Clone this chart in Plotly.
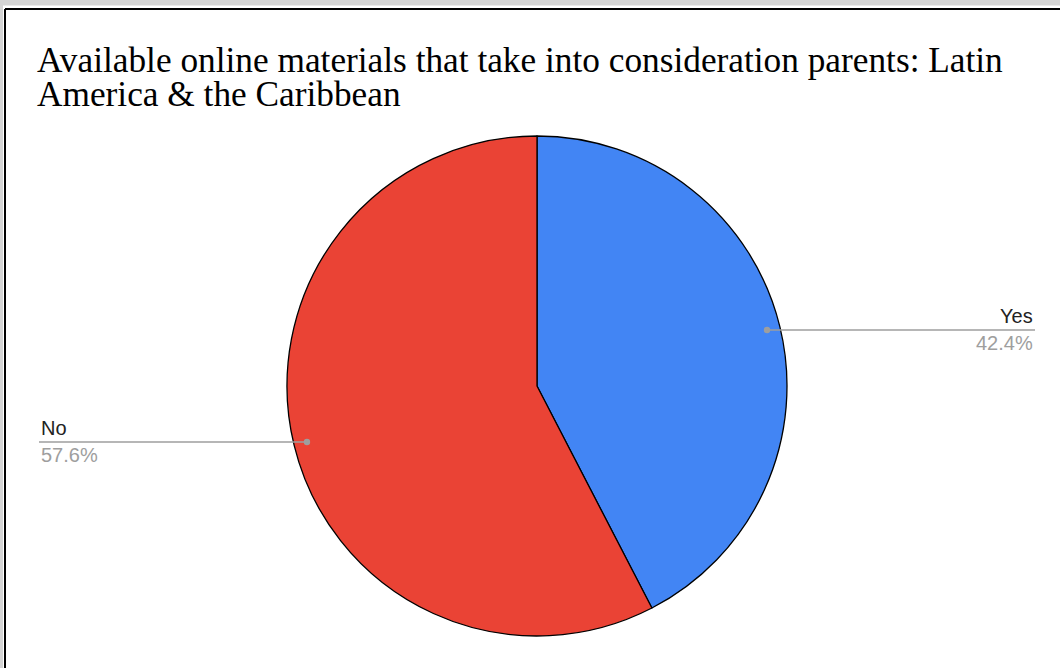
import math
import plotly.graph_objects as go

# ---- data ----
labels = ["Yes", "No"]
values = [42.4, 57.6]
colors = ["#4285f4", "#ea4335"]
title_lines = ["Available online materials that take into consideration parents: Latin",
               "America & the Caribbean"]

# ---- layout geometry (page pixels) ----
W, H = 1060, 668
cx, cy, R = 537, 386, 250
lead_r = 0.947 * R
label_x = {"right": 1035, "left": 39}

def px(x):
    return x / W

def py(y):
    return 1 - y / H

fig = go.Figure()
fig.add_trace(go.Pie(
    labels=labels, values=values, sort=False, direction="clockwise", rotation=0,
    marker=dict(colors=colors, line=dict(color="#000000", width=1.3)),
    textinfo="none", hoverinfo="label+percent", showlegend=False,
    domain=dict(x=[px(cx - R), px(cx + R)], y=[py(cy + R), py(cy - R)]),
))

shapes = []
annotations = []
total = sum(values)
cum = 0.0
for lab, v in zip(labels, values):
    mid = (cum + v / 2) / total * 2 * math.pi
    cum += v
    dx = lead_r * math.sin(mid)
    dy = -lead_r * math.cos(mid)
    x0, y0 = cx + dx, cy + dy
    right = dx >= 0
    xe = label_x["right"] if right else label_x["left"]
    shapes.append(dict(type="line", xref="paper", yref="paper",
                       x0=px(x0), x1=px(xe), y0=py(y0), y1=py(y0),
                       line=dict(color="#9e9e9e", width=1.6)))
    shapes.append(dict(type="circle", xref="paper", yref="paper",
                       x0=px(x0 - 3.2), x1=px(x0 + 3.2), y0=py(y0 - 3.2), y1=py(y0 + 3.2),
                       fillcolor="#9e9e9e", line=dict(width=0)))
    anchor = "right" if right else "left"
    annotations.append(dict(text=lab, x=px(xe), y=py(y0 - 1), xref="paper", yref="paper",
                            xanchor=anchor, yanchor="bottom", showarrow=False,
                            font=dict(family="Liberation Sans, Arial", size=20, color="#222222")))
    annotations.append(dict(text=f"{v / total * 100:.1f}%", x=px(xe), y=py(y0 + 0),
                            xref="paper", yref="paper",
                            xanchor=anchor, yanchor="top", showarrow=False,
                            font=dict(family="Liberation Sans, Arial", size=20, color="#9e9e9e")))

# title lines
for i, t in enumerate(title_lines):
    annotations.append(dict(text=t, x=px(35), y=py(39 + 34 * i), xref="paper", yref="paper",
                            xanchor="left", yanchor="top", showarrow=False,
                            font=dict(family="Liberation Serif, Times New Roman", size=35.3,
                                      color="#000000")))

# frame
shapes += [
    dict(type="rect", xref="paper", yref="paper", x0=0, x1=1, y0=py(5.5), y1=1,
         fillcolor="#d4d4d4", line=dict(width=0), layer="below"),
    dict(type="rect", xref="paper", yref="paper", x0=0, x1=px(3), y0=0, y1=1,
         fillcolor="#d4d4d4", line=dict(width=0), layer="below"),
    dict(type="line", xref="paper", yref="paper", x0=px(5), x1=1, y0=py(9), y1=py(9),
         line=dict(color="#000000", width=2)),
    dict(type="line", xref="paper", yref="paper", x0=px(5), x1=px(5), y0=0, y1=py(9),
         line=dict(color="#000000", width=2)),
]

fig.update_layout(
    width=W, height=H, margin=dict(l=0, r=0, t=0, b=0),
    paper_bgcolor="#ffffff", plot_bgcolor="#ffffff",
    shapes=shapes, annotations=annotations,
)
fig.write_html("out.html", config={"displayModeBar": False},
               post_script="document.body.style.margin='0px';document.body.style.overflow='hidden';")
